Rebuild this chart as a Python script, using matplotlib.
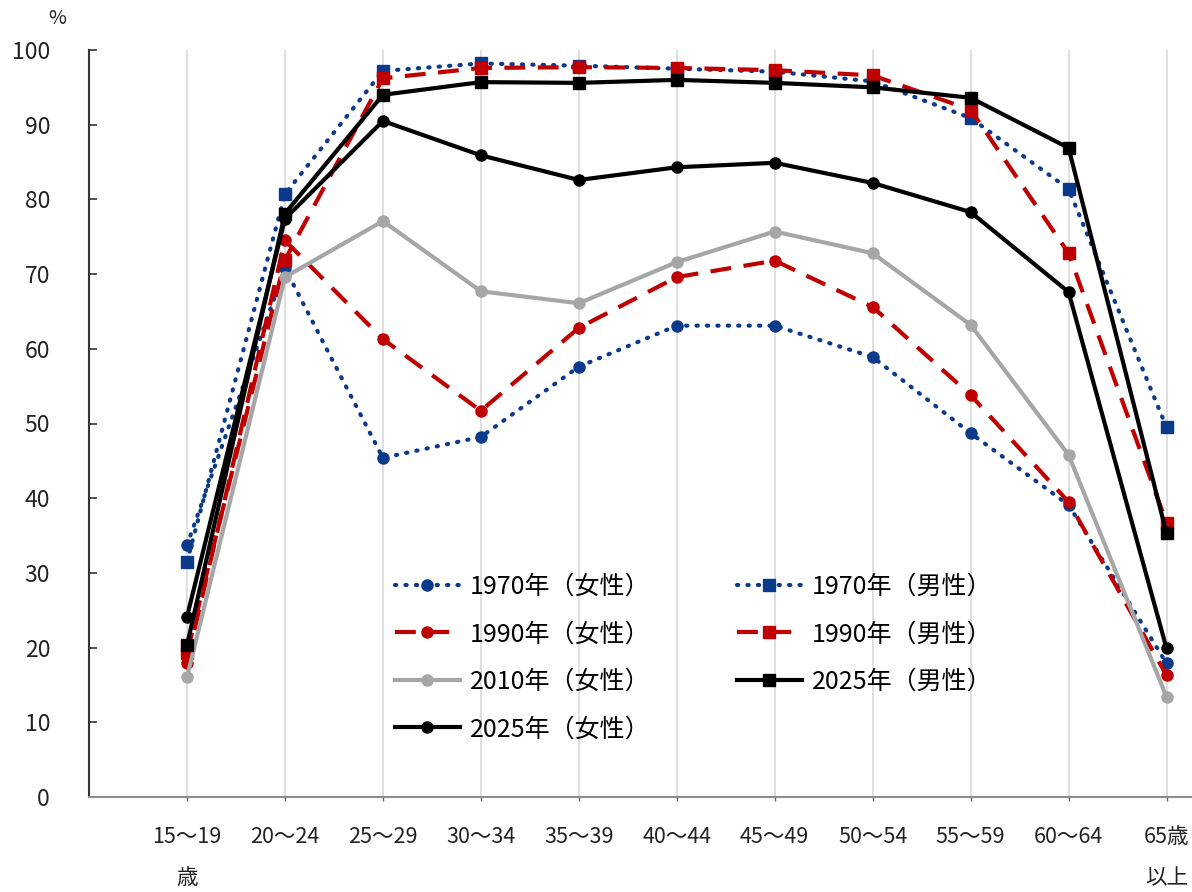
import matplotlib
matplotlib.use("Agg")
import matplotlib.pyplot as plt

plt.rcParams['font.family'] = ['Noto Sans CJK JP', 'DejaVu Sans']

categories = ["15〜19\n歳", "20〜24", "25〜29", "30〜34", "35〜39", "40〜44",
              "45〜49", "50〜54", "55〜59", "60〜64", "65歳\n以上"]

f1970 = [33.7, 70.8, 45.4, 48.2, 57.6, 63.1, 63.1, 58.9, 48.7, 39.1, 17.9]
m1970 = [31.5, 80.7, 97.2, 98.2, 97.9, 97.5, 97.1, 95.8, 90.9, 81.4, 49.5]
f1990 = [18.0, 74.5, 61.3, 51.7, 62.8, 69.6, 71.8, 65.6, 53.8, 39.5, 16.3]
m1990 = [19.3, 71.9, 96.2, 97.6, 97.7, 97.6, 97.3, 96.6, 92.0, 72.8, 36.7]
f2010 = [16.0, 69.6, 77.1, 67.7, 66.1, 71.6, 75.7, 72.8, 63.2, 45.8, 13.4]
f2025 = [24.1, 77.4, 90.5, 85.9, 82.6, 84.3, 84.9, 82.2, 78.3, 67.6, 19.9]
m2025 = [20.3, 78.1, 94.0, 95.7, 95.6, 96.0, 95.6, 95.0, 93.6, 86.9, 35.3]

labels = {
    'f1970': "1970年（女性）", 'm1970': "1970年（男性）",
    'f1990': "1990年（女性）", 'm1990': "1990年（男性）",
    'f2010': "2010年（女性）",
    'f2025': "2025年（女性）", 'm2025': "2025年（男性）",
}

BLUE = "#0B3A8A"
RED = "#C00000"
GRAY = "#A6A6A6"
BLACK = "#000000"

fig = plt.figure(figsize=(11.92, 8.92), dpi=100)
ax = fig.add_axes([89/1192, 95/892, (1192-89)/1192, 747/892])

x = list(range(len(categories)))
dot = (0, (0.3, 2.2))
dash = (0, (5, 3))

lw = 3.0
h = {}
h['f1970'], = ax.plot(x, f1970, color=BLUE, lw=lw, ls=dot, dash_capstyle='round',
                      marker='o', ms=8, label=labels['f1970'], clip_on=False)
h['m1970'], = ax.plot(x, m1970, color=BLUE, lw=lw, ls=dot, dash_capstyle='round',
                      marker='s', ms=8.5, label=labels['m1970'], clip_on=False)
h['f1990'], = ax.plot(x, f1990, color=RED, lw=lw, ls=dash,
                      marker='o', ms=8, label=labels['f1990'], clip_on=False)
h['m1990'], = ax.plot(x, m1990, color=RED, lw=lw, ls=dash,
                      marker='s', ms=8.5, label=labels['m1990'], clip_on=False)
h['f2010'], = ax.plot(x, f2010, color=GRAY, lw=lw, marker='o', ms=8,
                      label=labels['f2010'], clip_on=False)
h['f2025'], = ax.plot(x, f2025, color=BLACK, lw=lw, marker='o', ms=8,
                      label=labels['f2025'], clip_on=False)
h['m2025'], = ax.plot(x, m2025, color=BLACK, lw=lw, marker='s', ms=8.5,
                      label=labels['m2025'], clip_on=False)

ax.set_xlim(-1, 10.26)
ax.set_ylim(0, 100)
ax.set_yticks(range(0, 101, 10))
ax.set_xticks(x)
ax.set_xticklabels(categories, fontsize=15.5, linespacing=2.1, color='#222222')
for t in ax.get_yticklabels():
    t.set_fontsize(16.5)
    t.set_color('#222222')

ax.xaxis.grid(True, color='#D9D9D9', lw=1.2)
ax.set_axisbelow(True)

for s in ['top', 'right']:
    ax.spines[s].set_visible(False)
ax.spines['left'].set_color('#333333')
ax.spines['left'].set_linewidth(1.5)
ax.spines['bottom'].set_color('#8C8C8C')
ax.spines['bottom'].set_linewidth(1.5)

ax.tick_params(axis='y', direction='in', length=6, width=1.2, color='#333333', pad=28)
ax.tick_params(axis='x', direction='out', length=3, width=1.0, color='#666666', pad=18)

fig.text(57/1192, 1 - 18/892, "%", fontsize=14, ha='center', va='center', color='#222222')

order = ['f1970', 'f1990', 'f2010', 'f2025', 'm1970', 'm1990', 'm2025']
ax.legend([h[k] for k in order], [labels[k] for k in order],
          ncol=2, loc='upper left', bbox_to_anchor=(0.277, 0.299),
          frameon=False, fontsize=18, handlelength=2.6, handletextpad=0.4,
          columnspacing=3.46, labelspacing=0.86, borderpad=0, borderaxespad=0)

fig.savefig("out.png", dpi=100)
